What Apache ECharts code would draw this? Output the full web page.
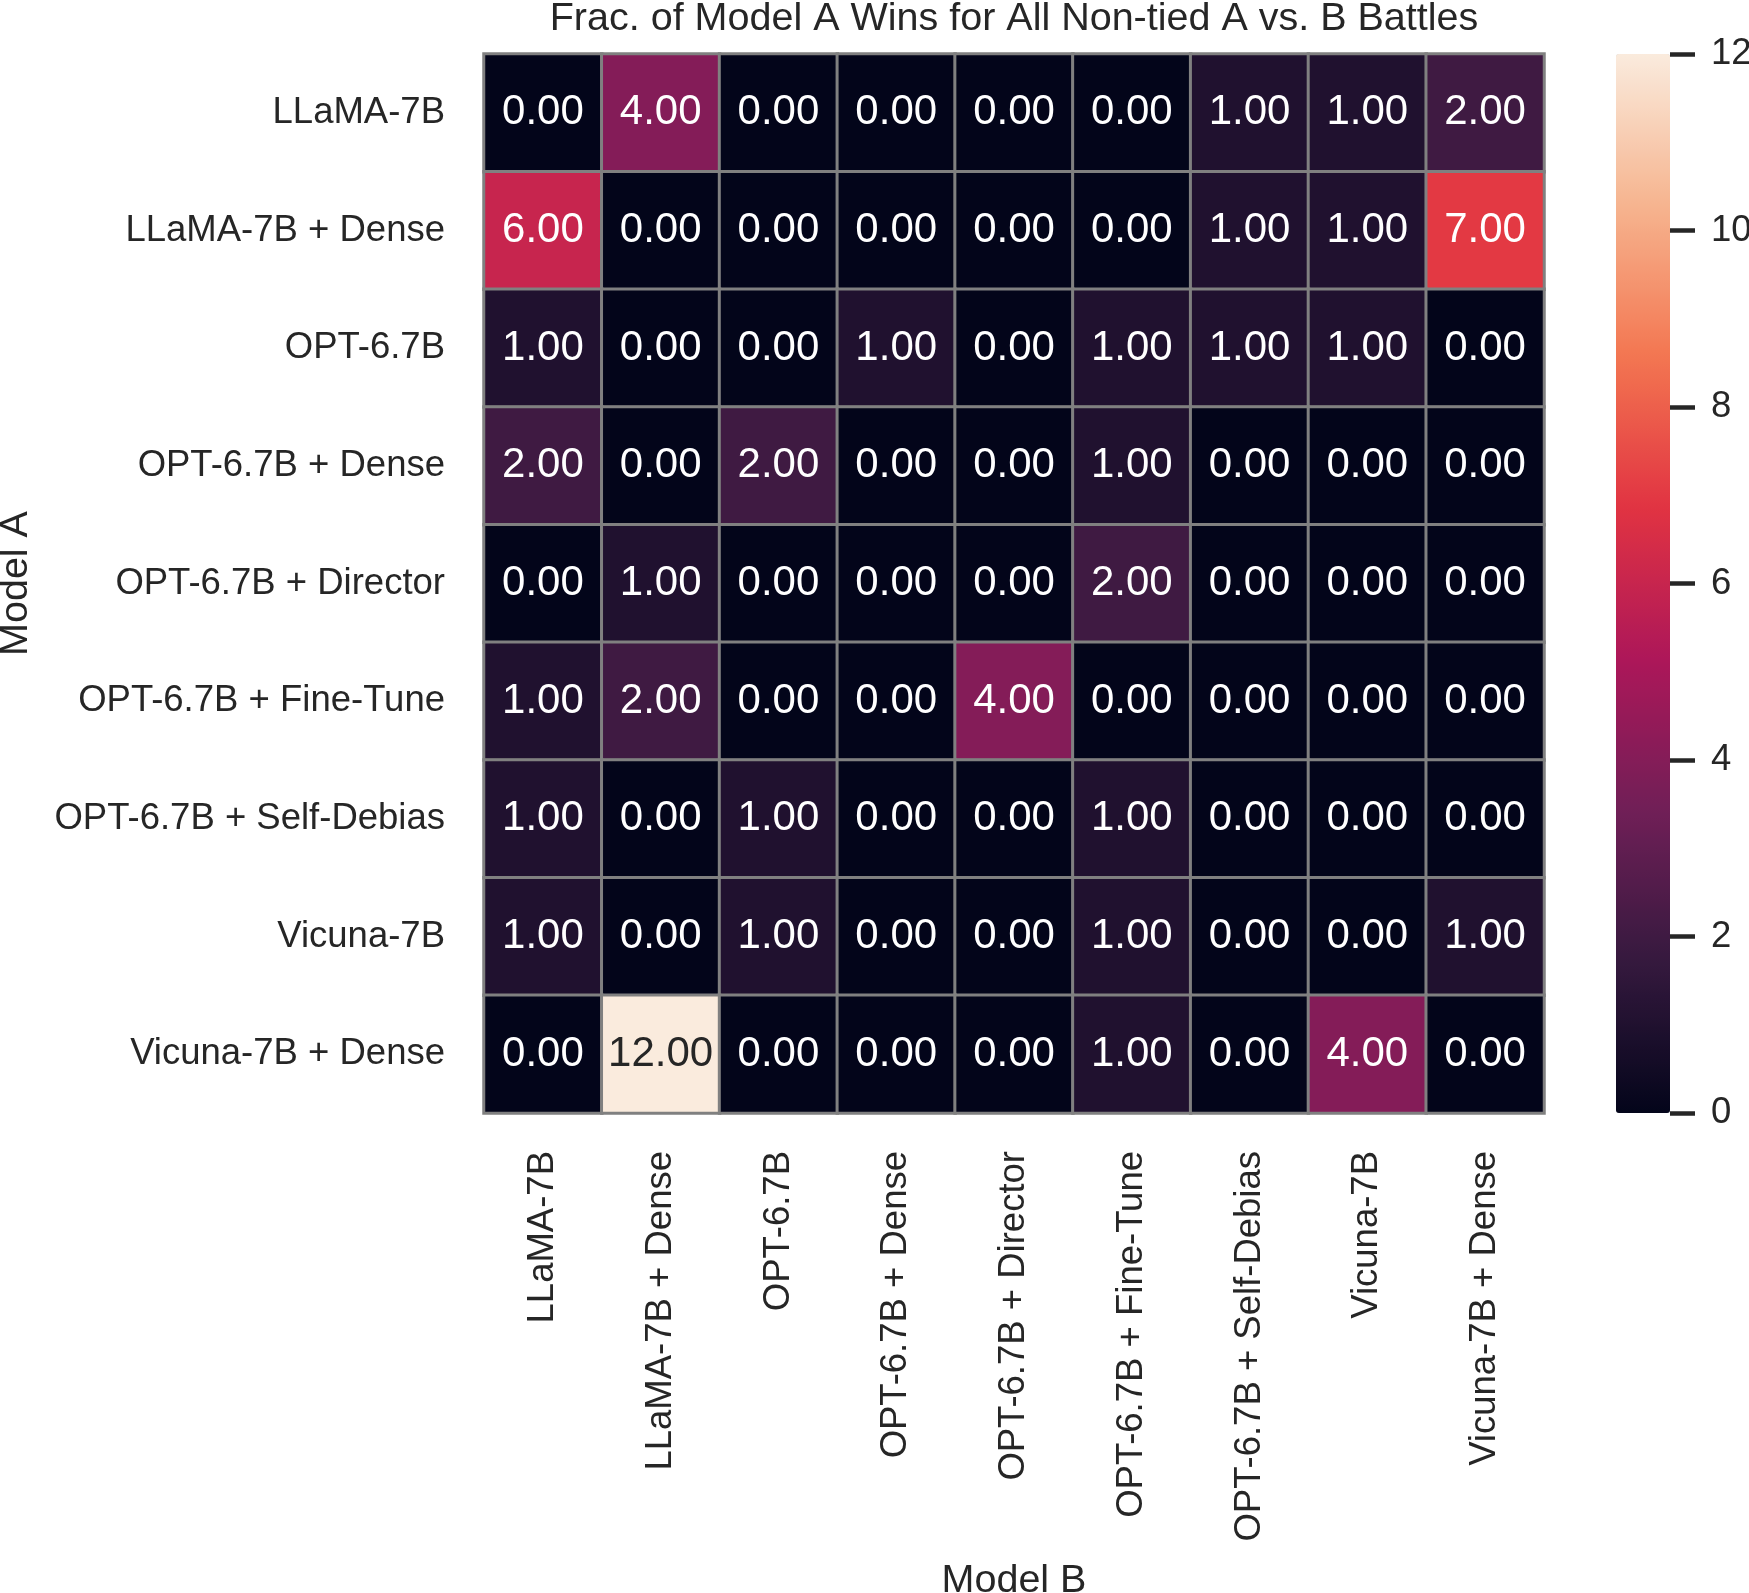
<!DOCTYPE html>
<html>
<head>
<meta charset="utf-8">
<script src="https://cdn.jsdelivr.net/npm/echarts@6/dist/echarts.min.js"></script>
<style>
  html, body { margin: 0; padding: 0; background: #fff; }
  #chart { width: 1749px; height: 1593px; }
</style>
</head>
<body>
<div id="chart"></div>
<script>
const models = [
  "LLaMA-7B", "LLaMA-7B + Dense", "OPT-6.7B", "OPT-6.7B + Dense",
  "OPT-6.7B + Director", "OPT-6.7B + Fine-Tune", "OPT-6.7B + Self-Debias",
  "Vicuna-7B", "Vicuna-7B + Dense"
];

// rows = Model A, columns = Model B
const wins = [
  [0, 4, 0, 0, 0, 0, 1, 1, 2],
  [6, 0, 0, 0, 0, 0, 1, 1, 7],
  [1, 0, 0, 1, 0, 1, 1, 1, 0],
  [2, 0, 2, 0, 0, 1, 0, 0, 0],
  [0, 1, 0, 0, 0, 2, 0, 0, 0],
  [1, 2, 0, 0, 4, 0, 0, 0, 0],
  [1, 0, 1, 0, 0, 1, 0, 0, 0],
  [1, 0, 1, 0, 0, 1, 0, 0, 1],
  [0, 12, 0, 0, 0, 1, 0, 4, 0]
];

const colorMin = 0;
const colorMax = 12;
const colorStep = 2;

// seaborn "rocket"
const rocket = ["#03051a", "#35193e", "#701f57", "#ad1759", "#e13342", "#f37651", "#f6b48f", "#faebdd"];

const font = "Liberation Sans, Arial, Helvetica, sans-serif";
const ink = "#262626";

let cells = [];
wins.forEach((row, i) => {
  row.forEach((v, j) => {
    cells.push({
      value: [j, i, v],
      label: { color: v > 9 ? ink : "#ffffff" }
    });
  });
});

let chart = echarts.init(document.getElementById("chart"));
chart.setOption({
  backgroundColor: "#ffffff",
  animation: false,
  textStyle: { fontFamily: font },
  title: {
    text: "Frac. of Model A Wins for All Non-tied A vs. B Battles",
    left: 1014,
    top: -1,
    padding: 0,
    textAlign: "center",
    textStyle: { fontFamily: font, fontSize: 39.5, fontWeight: "normal", color: ink }
  },
  grid: [
    { left: 484, top: 54, width: 1060, height: 1059, outerBoundsMode: "none" },
    // strip right of the colorbar, its split lines act as the colorbar ticks
    { left: 1670, top: 54, width: 25, height: 1059, outerBoundsMode: "none" }
  ],
  xAxis: [
    {
      type: "category",
      data: models,
      gridIndex: 0,
      name: "Model B",
      nameLocation: "middle",
      nameGap: 448,
      nameTextStyle: { fontFamily: font, fontSize: 39.5, color: ink },
      axisLine: { show: false },
      axisTick: { show: false },
      splitLine: { show: false },
      axisLabel: { rotate: 90, margin: 38, fontSize: 36.5, color: ink, fontFamily: font }
    },
    { type: "value", gridIndex: 1, show: false, min: 0, max: 1 }
  ],
  yAxis: [
    {
      type: "category",
      data: models,
      gridIndex: 0,
      inverse: true,
      name: "Model A",
      nameLocation: "middle",
      nameRotate: 90,
      nameGap: 448,
      nameTextStyle: { fontFamily: font, fontSize: 39.5, color: ink },
      axisLine: { show: false },
      axisTick: { show: false },
      splitLine: { show: false },
      axisLabel: { margin: 39, fontSize: 36.5, color: ink, fontFamily: font }
    },
    {
      type: "value",
      gridIndex: 1,
      position: "right",
      min: colorMin,
      max: colorMax,
      interval: colorStep,
      axisLine: { show: false },
      axisTick: { show: false },
      splitLine: { show: true, lineStyle: { color: ink, width: 4.5 } },
      axisLabel: { margin: 16, fontSize: 36.5, color: ink, fontFamily: font }
    }
  ],
  visualMap: {
    type: "continuous",
    min: colorMin,
    max: colorMax,
    seriesIndex: 0,
    calculable: false,
    hoverLink: false,
    orient: "vertical",
    left: 1616,
    top: 54,
    padding: 0,
    itemWidth: 54,
    itemHeight: 1059,
    inRange: { color: rocket }
  },
  series: [
    {
      type: "heatmap",
      xAxisIndex: 0,
      yAxisIndex: 0,
      data: cells,
      itemStyle: { borderColor: "#808080", borderWidth: 3 },
      label: {
        show: true,
        fontSize: 42,
        fontFamily: font,
        formatter: p => p.value[2].toFixed(2)
      },
      emphasis: { disabled: true }
    },
    {
      type: "scatter",
      xAxisIndex: 1,
      yAxisIndex: 1,
      data: []
    }
  ]
});
</script>
</body>
</html>
